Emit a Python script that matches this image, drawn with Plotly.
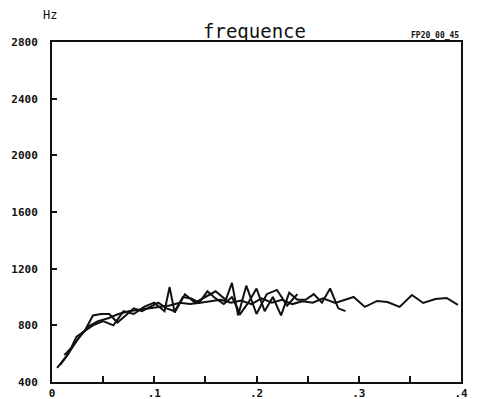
import plotly.graph_objects as go

# Series 1 (longest, up to 0.4)
x1 = [0.005, 0.015, 0.025, 0.035, 0.045, 0.055, 0.065, 0.075, 0.085, 0.095, 0.105, 0.115,
      0.125, 0.135, 0.145, 0.155, 0.165, 0.175, 0.185, 0.195, 0.205, 0.215, 0.225, 0.235,
      0.245, 0.255, 0.265, 0.277, 0.295, 0.306, 0.318, 0.328, 0.34, 0.352, 0.363, 0.375,
      0.386, 0.397]
y1 = [500, 590, 700, 790, 830, 850, 880, 900, 910, 920, 930, 940,
      960, 950, 960, 970, 980, 960, 975, 950, 990, 960, 980, 950,
      970, 960, 990, 958, 1000, 930, 972, 965, 930, 1014, 958, 986,
      993, 944]

# Series 2 (up to ~0.29)
x2 = [0.008, 0.016, 0.024, 0.032, 0.04, 0.048, 0.056, 0.064, 0.072, 0.08, 0.088, 0.096,
      0.104, 0.112, 0.12, 0.128, 0.136, 0.144, 0.152, 0.16, 0.168, 0.176, 0.184, 0.192,
      0.2, 0.208, 0.216, 0.224, 0.232, 0.24, 0.248, 0.256, 0.264, 0.272, 0.28, 0.287]
y2 = [520, 600, 720, 760, 870, 880, 880, 820, 870, 920, 900, 930,
      960, 920, 900, 1000, 990, 960, 1040, 990, 950, 1000, 880, 960,
      1060, 900, 1000, 870, 1030, 980, 980, 1020, 960, 1060, 920, 900]

# Series 3 (up to ~0.24)
x3 = [0.012, 0.02, 0.03, 0.04, 0.05, 0.06, 0.07, 0.08, 0.09, 0.1, 0.11, 0.115,
      0.12, 0.13, 0.14, 0.15, 0.16, 0.17, 0.176, 0.182, 0.19, 0.2, 0.21, 0.22,
      0.23, 0.24]
y3 = [590, 650, 750, 800, 830, 800, 900, 880, 930, 960, 900, 1070,
      890, 1020, 960, 1000, 1040, 980, 1100, 870, 1080, 880, 1020, 1050,
      940, 1020]

x_ticks = [0, 0.1, 0.2, 0.3, 0.4]
x_tick_labels = ["0", ".1", ".2", ".3", ".4"]
y_ticks = [400, 800, 1200, 1600, 2000, 2400, 2800]
y_tick_labels = ["400", "800", "1200", "1600", "2000", "2400", "2800"]

FONT = "DejaVu Sans Mono"

fig = go.Figure()
for xs, ys in [(x1, y1), (x2, y2), (x3, y3)]:
    fig.add_trace(go.Scatter(x=xs, y=ys, mode="lines",
                             line=dict(color="#111111", width=2),
                             showlegend=False, hoverinfo="skip"))

# page body has an 8px margin, so the figure is sized/offset to place the frame
fig.update_layout(
    width=473, height=391,
    margin=dict(l=44, r=20, t=34, b=17),
    paper_bgcolor="white", plot_bgcolor="white",
    font=dict(family=FONT, color="#111111", size=11),
)
fig.update_xaxes(
    range=[0, 0.4], tickvals=x_ticks, ticktext=x_tick_labels, automargin=False,
    showgrid=False, zeroline=False, showline=True, linecolor="#111111", linewidth=2,
    mirror=True, ticks="", tickfont=dict(family=FONT, size=11, weight="bold"),
    ticklabelstandoff=0,
)
fig.update_yaxes(
    range=[400, 2800], tickvals=y_ticks, ticktext=y_tick_labels, automargin=False,
    showgrid=False, zeroline=False, showline=True, linecolor="#111111", linewidth=2,
    mirror=True, ticks="", tickfont=dict(family=FONT, size=11, weight="bold"),
    ticklabelstandoff=10,
)

fig.update_xaxes(minor=dict(tickvals=[0.05, 0.1, 0.15, 0.2, 0.25, 0.3, 0.35],
                            ticks="inside", ticklen=6, tickwidth=2, tickcolor="#111111"))
fig.update_yaxes(minor=dict(tickvals=[800, 1200, 1600, 2000, 2400],
                            ticks="inside", ticklen=5, tickwidth=2, tickcolor="#111111"))

fig.add_annotation(text="frequence", xref="paper", yref="paper", x=0.496, y=1.0,
                   xanchor="center", yanchor="bottom", showarrow=False, yshift=-2,
                   font=dict(family=FONT, size=19))
fig.add_annotation(text="FP20_00_45", xref="paper", yref="paper", x=1.0, y=1.0,
                   xanchor="right", yanchor="bottom", showarrow=False,
                   font=dict(family=FONT, size=8, weight="bold"))
fig.add_annotation(text="Hz", xref="paper", yref="paper", x=-0.005, y=1.0, yshift=18,
                   xanchor="center", yanchor="bottom", showarrow=False,
                   font=dict(family=FONT, size=12))

fig.write_html("out.html")
